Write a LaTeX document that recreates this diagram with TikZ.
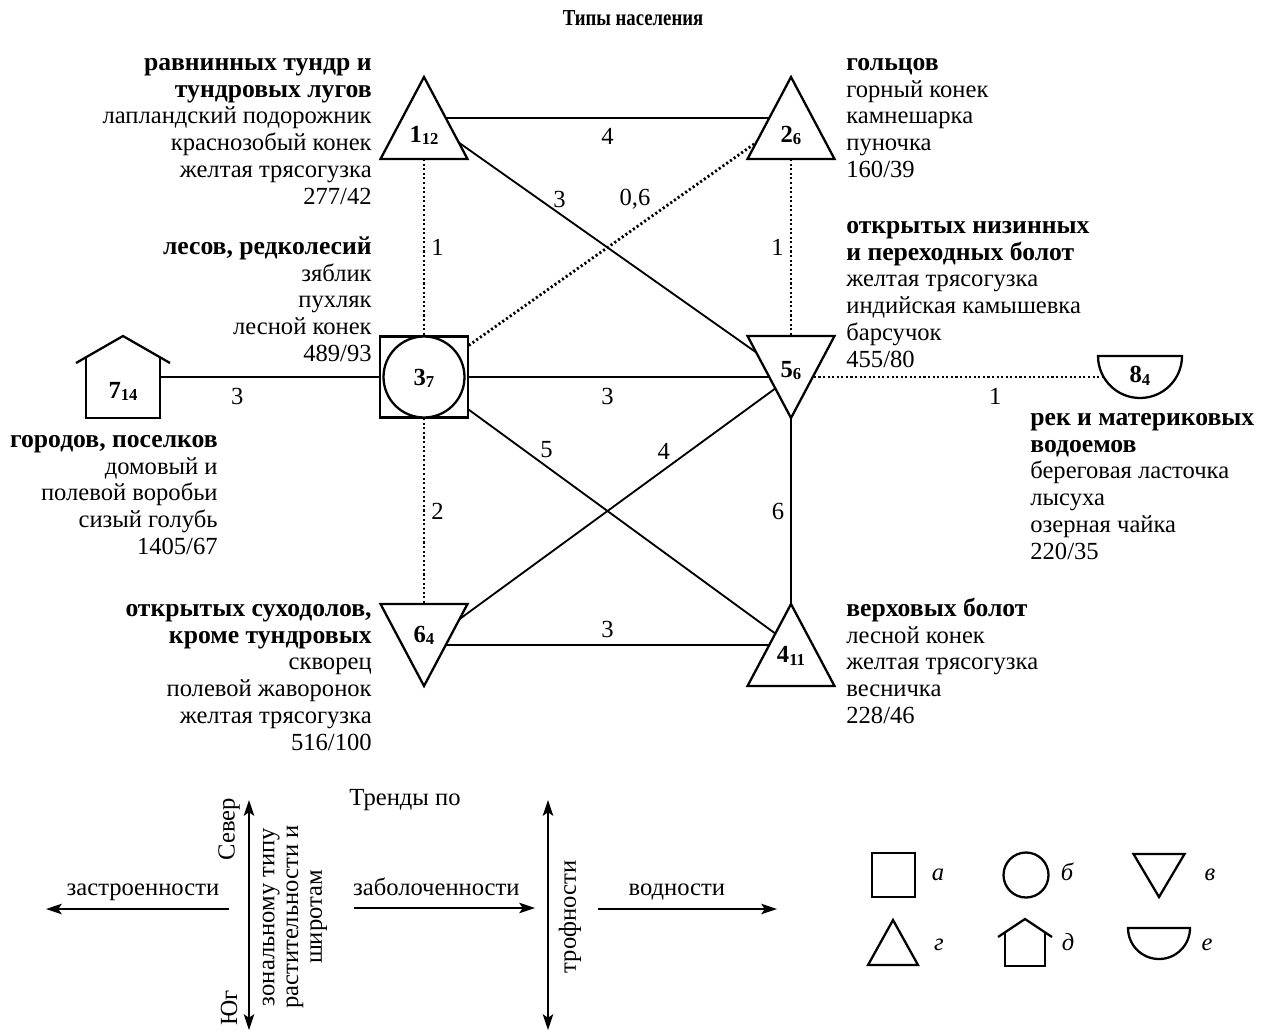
\documentclass[tikz,border=0pt]{standalone}
\usepackage{fontspec}
\setmainfont{Liberation Serif}
\usetikzlibrary{arrows.meta,backgrounds}

\newcommand\nlab[3]{\raisebox{-#1}[0pt][0pt]{\bfseries #2\raisebox{-1.5pt}{\fontsize{9.5}{10}\selectfont #3}}}
\newcommand\bt[1]{{\fontsize{14.6}{15.3}\selectfont\bfseries #1}}

\tikzset{
  outl/.style={line width=1.3pt, line join=miter, fill=white},
  ppc/.style={shift={(path picture bounding box.center)}, x=1cm, y=1cm},
  upT/.style 2 args={inner sep=0pt, minimum width=#1cm+8pt, minimum height=#2cm+8pt,
    path picture={\draw[outl,ppc] (-#1/2,-#2/2) -- ++(#1,0) -- ++(-#1/2,#2) -- cycle;}},
  dnT/.style 2 args={inner sep=0pt, minimum width=#1cm+8pt, minimum height=#2cm+8pt,
    path picture={\draw[outl,ppc] (-#1/2,#2/2) -- ++(#1,0) -- ++(-#1/2,-#2) -- cycle;}},
  sq/.style 2 args={inner sep=0pt, minimum width=#1cm+8pt, minimum height=#2cm+8pt,
    path picture={\draw[outl,ppc] (-#1/2,-#2/2) rectangle ++(#1,#2);}},
  rng/.style={inner sep=0pt, minimum size=2*#1cm+8pt,
    path picture={\draw[outl,ppc] (0,0) circle[radius=#1];}},
  sqrng/.style 2 args={inner sep=0pt, minimum width=#1cm+8pt, minimum height=#2cm+8pt,
    path picture={\draw[outl,ppc] (-#1/2,-#2/2) rectangle ++(#1,#2);
      \draw[outl,ppc] (0,0) circle[radius=#2/2];}},
  bowl/.style={inner sep=0pt, minimum width=2*#1cm+8pt, minimum height=#1cm+8pt,
    path picture={\draw[outl,ppc] (-#1,#1/2) -- (#1,#1/2) arc[start angle=0, end angle=-180, radius=#1] -- cycle;}},
  house/.style n args={4}{inner sep=0pt, minimum width=#1cm+8pt, minimum height=#4cm+8pt,
    path picture={
      \fill[white,ppc] (-#2/2,-#4/2) -- (-#2/2,#4/2-#3*#2/#1) -- (0,#4/2) -- (#2/2,#4/2-#3*#2/#1) -- (#2/2,-#4/2) -- cycle;
      \draw[outl,fill=none,ppc] (-#1/2,#4/2-#3) -- (0,#4/2) -- (#1/2,#4/2-#3);
      \draw[outl,fill=none,ppc] (-#2/2,#4/2-#3*#2/#1) -- (-#2/2,-#4/2) -- (#2/2,-#4/2) -- (#2/2,#4/2-#3*#2/#1);}},
  lnk/.style={line width=1.05pt},
  dlnk/.style={line width=1.6pt, dash pattern=on 1.2pt off 1.4pt},
  trend/.style={line width=0.9pt},
  blk/.style={inner sep=0pt, font=\fontsize{14}{15.3}\selectfont},
  let/.style={anchor=base, font=\fontsize{14}{15.3}\selectfont\itshape},
}

\begin{document}
\begin{tikzpicture}[x=0.02cm, y=-0.02cm, >={Stealth[length=9pt, width=6pt, inset=2pt]},
  every node/.style={font=\fontsize{14}{15.3}\selectfont}]
\useasboundingbox (0,0) rectangle (1263,1035);

\node[font=\fontsize{13}{14}\selectfont\bfseries, anchor=base] (ttl) at (633,25) {\scalebox{0.82}[1]{Типы населения}};

% population types
\node[upT={1.74}{1.64}] (n1) at (424,118) {};
\node[upT={1.74}{1.64}] (n2) at (791,118) {};
\node[sqrng={1.76}{1.62}] (n3) at (424,377) {};
\node[dnT={1.74}{1.64}] (n5) at (791,377) {};
\node[house={1.88}{1.48}{0.54}{1.64}] (n7) at (123,377) {};
\node[bowl=0.84] (n8) at (1140,377) {};
\node[dnT={1.74}{1.64}] (n6) at (424,645) {};
\node[upT={1.74}{1.64}] (n4) at (791,645) {};

\node (l1) at (n1) {\nlab{13.7pt}{1}{12}};
\node (l2) at (n2) {\nlab{13.7pt}{2}{6}};
\node (l3) at (n3) {\nlab{4.6pt}{3}{7}};
\node (l5) at (n5) {\nlab{0pt}{5}{6}};
\node (l7) at (n7) {\nlab{12pt}{7}{14}};
\node (l8) at (n8) {\nlab{3.4pt}{8}{4}};
\node (l6) at (n6) {\nlab{-1.7pt}{6}{4}};
\node (l4) at (n4) {\nlab{10.2pt}{4}{11}};

\node[blk, align=right, anchor=north east] (d1) at (372,51)
  {\strut\bt{равнинных тундр и}\\\bt{тундровых лугов}\\лапландский подорожник\\краснозобый конек\\желтая трясогузка\\277/42};
\node[blk, align=left, anchor=north west] (d2) at (846,51)
  {\strut\bt{гольцов}\\горный конек\\камнешарка\\пуночка\\160/39};
\node[blk, align=right, anchor=north east] (d3) at (372,235)
  {\strut\bt{лесов, редколесий}\\зяблик\\пухляк\\лесной конек\\489/93};
\node[blk, align=left, anchor=north west] (d5) at (846,214)
  {\strut\bt{открытых низинных}\\\bt{и переходных болот}\\желтая трясогузка\\индийская камышевка\\барсучок\\455/80};
\node[blk, align=right, anchor=north east] (d7) at (218,428)
  {\strut\bt{городов, поселков}\\домовый и\\полевой воробьи\\сизый голубь\\1405/67};
\node[blk, align=left, anchor=north west] (d8) at (1030,406)
  {\strut\bt{рек и материковых}\\\bt{водоемов}\\береговая ласточка\\лысуха\\озерная чайка\\220/35};
\node[blk, align=right, anchor=north east] (d6) at (372,597)
  {\strut\bt{открытых суходолов,}\\\bt{кроме тундровых}\\скворец\\полевой жаворонок\\желтая трясогузка\\516/100};
\node[blk, align=left, anchor=north west] (d4) at (846,597)
  {\strut\bt{верховых болот}\\лесной конек\\желтая трясогузка\\весничка\\228/46};

% links
\begin{scope}[on background layer]
\draw[lnk] (n1.center) -- (n2.center) node[midway, below=2pt] (w12) {4};
\draw[lnk] (n1.center) -- (n5.center) node[pos=0.35, above right, inner sep=0pt] (w15) {3};
\draw[dlnk] (n3.center) -- (n2.center) node[pos=0.63, above left, inner sep=2pt] (w32) {0,6};
\draw[dlnk] (n1.center) -- (n3.center) node[midway, right] (w13) {1};
\draw[dlnk] (n2.center) -- (n5.center) node[midway, left] (w25) {1};
\draw[lnk] (n7.center) -- (n3.center) node[pos=0.38, below=2.5pt] (w73) {3};
\draw[lnk] (n3.center) -- (n5.center) node[midway, below=2.5pt] (w35) {3};
\draw[dlnk] (n5.center) -- (n8.center) node[pos=0.585, below=2.5pt] (w58) {1};
\draw[lnk] (n3.center) -- (n4.center) node[pos=0.31, above right, inner sep=1pt] (w34) {5};
\draw[lnk] (n6.center) -- (n5.center) node[pos=0.68, above left, inner sep=1.5pt] (w65) {4};
\draw[dlnk] (n3.center) -- (n6.center) node[midway, right] (w36) {2};
\draw[lnk] (n5.center) -- (n4.center) node[midway, left] (w54) {6};
\draw[lnk] (n6.center) -- (n4.center) node[midway, above] (w64) {3};
\end{scope}

% trends
\node[anchor=base] (tp) at (405,805) {Тренды по};
\coordinate (zA) at (229,909);
\coordinate (zB) at (46,909);
\coordinate (bA) at (354,908);
\coordinate (bB) at (535,908);
\coordinate (vA) at (598,909);
\coordinate (vB) at (777,909);
\coordinate (nN) at (249,800);
\coordinate (nS) at (249,1030);
\coordinate (fN) at (548,800);
\coordinate (fS) at (548,1030);
\draw[trend, ->] (zA) -- (zB) node[pos=0.47, anchor=base, yshift=7.5pt] (tz) {застроенности};
\draw[trend, ->] (bA) -- (bB) node[pos=0.455, anchor=base, yshift=7pt] (tb) {заболоченности};
\draw[trend, ->] (vA) -- (vB) node[pos=0.44, anchor=base, yshift=7.5pt] (tv) {водности};
\draw[trend, <->] (nS) -- (nN);
\draw[trend, <->] (fS) -- (fN);
\node[rotate=90] (sev) at (229,829) {Север};
\node[rotate=90] (yug) at (229,1008) {Юг};
\node[rotate=90, align=center, font=\fontsize{14}{13.5}\selectfont] (zon) at (295,917) {зональному типу\\растительности и\\широтам};
\node[rotate=90] (tro) at (570,917) {трофности};

% legend
\node[sq={0.86}{0.88}] (ka) at (893.5,875) {};
\node[rng=0.45] (kb) at (1026,875) {};
\node[dnT={1.02}{0.86}] (kv) at (1159,875.5) {};
\node[upT={1.00}{0.90}] (kg) at (893,942.5) {};
\node[house={1.08}{0.80}{0.36}{0.94}] (kd) at (1025,942.5) {};
\node[bowl=0.62] (ke) at (1159,943.5) {};
\node[let] (la) at (938,880) {а};
\node[let] (lb) at (1067,880) {б};
\node[let] (lv) at (1210,880) {в};
\node[let] (lg) at (939,950) {г};
\node[let] (ld) at (1068,950) {д};
\node[let] (le) at (1207,950) {е};
\end{tikzpicture}
\end{document}
